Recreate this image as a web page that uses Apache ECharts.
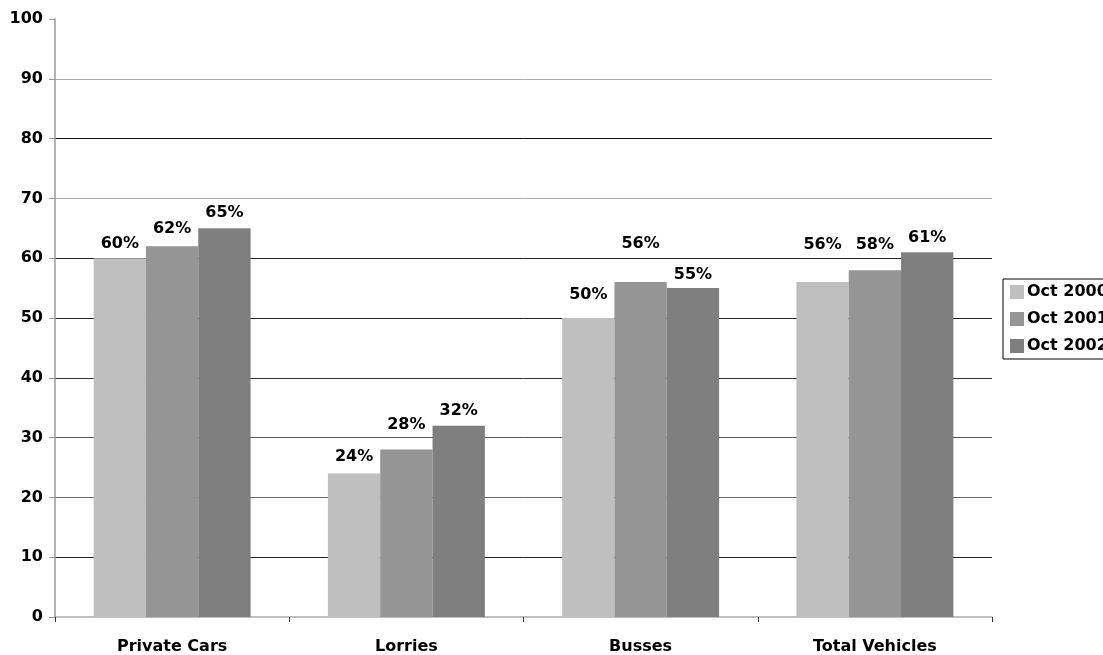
<!DOCTYPE html>
<html>
<head>
<meta charset="utf-8">
<script src="https://cdn.jsdelivr.net/npm/echarts@6/dist/echarts.min.js"></script>
<style>
html,body{margin:0;padding:0;background:#fff;}
#chart{width:1103px;height:655px;}
</style>
</head>
<body>
<div id="chart"></div>
<script>
const categories = ['Private Cars', 'Lorries', 'Busses', 'Total Vehicles'];
const seriesNames = ['Oct 2000', 'Oct 2001', 'Oct 2002'];
const oct2000 = [60, 24, 50, 56];
const oct2001 = [62, 28, 56, 58];
const oct2002 = [65, 32, 55, 61];
const yTicks = [0, 10, 20, 30, 40, 50, 60, 70, 80, 90, 100];

// styling (not data)
const colors = ['#bfbfbf', '#959595', '#7f7f7f'];
const labelLift = [
  [0, 3, 9, 23],
  [3, 11, 24, 11],
  [1, 1, -1, 0]
];
const font = '"DejaVu Sans", Verdana, sans-serif';

const values = [oct2000, oct2001, oct2002];
const series = seriesNames.map((name, si) => ({
  name: name,
  type: 'bar',
  barGap: '0%',
  barCategoryGap: '33%',
  itemStyle: { color: colors[si] },
  data: values[si].map((v, ci) => ({
    value: v,
    label: { offset: [0, -labelLift[si][ci]] }
  })),
  label: {
    show: true,
    position: 'top',
    distance: 6,
    formatter: p => p.value + '%',
    fontFamily: font,
    fontWeight: 'bold',
    fontSize: 16,
    color: '#000'
  }
}));

const chart = echarts.init(document.getElementById('chart'), null, { renderer: 'canvas' });
chart.setOption({
  animation: false,
  backgroundColor: '#fff',
  grid: { left: 55, right: 111, top: 19, bottom: 37, containLabel: false },
  legend: {
    orient: 'vertical',
    left: 1003,
    top: 279,
    padding: [5, 20, 5, 7],
    itemWidth: 14,
    itemHeight: 14,
    itemGap: 11,
    borderColor: '#000',
    borderWidth: 1,
    icon: 'rect',
    textStyle: { fontFamily: font, fontWeight: 'bold', fontSize: 16, color: '#000', padding: [0, 0, 0, -2] },
    data: seriesNames
  },
  xAxis: {
    type: 'category',
    data: categories,
    axisLine: { lineStyle: { color: '#aaaaaa', width: 1.5 } },
    axisTick: { show: true, length: 5, lineStyle: { color: '#333' } },
    axisLabel: { margin: 22, fontFamily: font, fontWeight: 'bold', fontSize: 16, color: '#000' }
  },
  yAxis: {
    type: 'value',
    min: yTicks[0],
    max: yTicks[yTicks.length - 1],
    interval: 10,
    axisLine: { show: true, lineStyle: { color: '#999999', width: 1.5 } },
    axisTick: { show: true, length: 6, lineStyle: { color: '#999999' } },
    axisLabel: { margin: 12, fontFamily: font, fontWeight: 'bold', fontSize: 16, color: '#000' },
    splitLine: {
      show: true,
      lineStyle: {
        width: 1,
        color: ['transparent', '#222', '#666', '#555', '#333', '#222', '#222', '#aaa', '#111', '#aaa', 'transparent']
      }
    }
  },
  series: series
});
</script>
</body>
</html>
